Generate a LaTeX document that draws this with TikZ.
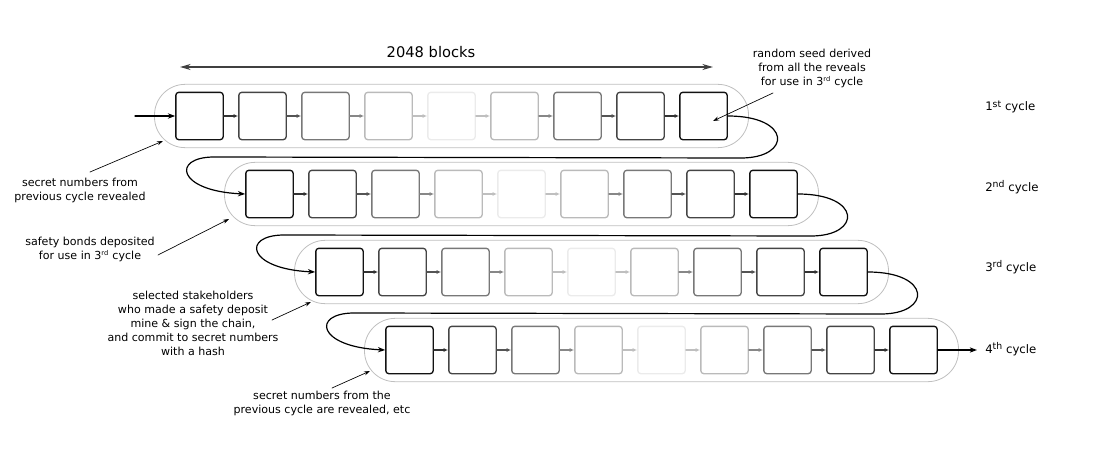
\documentclass[tikz,border=0pt]{standalone}
\usepackage{fontspec}
\setmainfont{DejaVu Sans}
\usetikzlibrary{arrows.meta,calc,fit}
\newcommand{\cycsup}[1]{\raisebox{0.55ex}{\fontsize{7}{8}\selectfont #1}}

\begin{document}
\begin{tikzpicture}[x=0.75pt, y=-0.75pt, line cap=round, line join=round,
  blk/.style={draw, rounded corners=2.2pt, line width=1pt, minimum width=35.5pt, minimum height=35.5pt, inner sep=0pt},
  track/.style={draw=black!25, line width=0.6pt, rounded corners=23pt, inner xsep=15.5pt, inner ysep=5.5pt},
  link/.style={-{Latex[length=3.5pt,width=3pt]}, line width=0.8pt},
  chain/.style={-{Stealth[length=5.5pt,width=4pt]}, line width=0.9pt},
  note/.style={font=\fontsize{8.3}{10.5}\selectfont, align=center, inner sep=0pt},
  cyc/.style={font=\fontsize{8.8}{10.5}\selectfont, anchor=west, inner sep=0pt},
  pointer/.style={-{Stealth[length=4.5pt,width=3pt]}, line width=0.5pt}]
  \useasboundingbox (0,0) rectangle (1112,453);

  % --- the four cycles, 9 blocks each, fading toward the middle ---
  \foreach \r in {1,...,4} {
    \foreach \i/\shade in {1/93,2/73,3/53,4/27,5/8,6/27,7/53,8/73,9/93}
      \node[blk, draw=black!\shade] (r\r-b\i) at ({199.5+70*(\r-1)+63*(\i-1)}, {116+78*(\r-1)}) {};
    \foreach \i/\j/\shade in {1/2/80,2/3/67,3/4/47,4/5/25,5/6/25,6/7/47,7/8/67,8/9/80}
      \draw[link, draw=black!\shade] (r\r-b\i) -- (r\r-b\j);
    \node[track, fit=(r\r-b1)(r\r-b9)] (r\r-track) {};
  }

  % --- chain running from one cycle into the next ---
  \coordinate (in) at (135,116);
  \coordinate (out) at (977,350);
  \draw[chain] (in) -- (r1-b1.west);
  \foreach \r/\s in {1/2,2/3,3/4}
    \draw[chain] (r\r-b9.east)
      .. controls ($(r\r-b9.east)+(64,0)$) and ($(r\r-b9.east)+(64,42)$) .. ($(r\r-b9.east)+(13,42)$)
      -- ($(r\s-b1.west)+(-31,-37)$)
      .. controls ($(r\s-b1.west)+(-74,-37)$) and ($(r\s-b1.west)+(-68,-3)$) .. (r\s-b1.west);
  \draw[chain] (r4-b9.east) -- (out);

  % --- cycle labels ---
  \node[cyc] (cyc1) at (985,107) {1\cycsup{st} cycle};
  \node[cyc] (cyc2) at (985,187) {2\cycsup{nd} cycle};
  \node[cyc] (cyc3) at (985,267) {3\cycsup{rd} cycle};
  \node[cyc] (cyc4) at (985,349) {4\cycsup{th} cycle};

  % --- span of one cycle ---
  \coordinate (span-l) at (180,67);
  \coordinate (span-r) at (713,67);
  \draw[{Stealth[length=8pt,width=4.5pt]}-{Stealth[length=8pt,width=4.5pt]}, draw=black!75, line width=0.9pt] (span-l) -- (span-r);
  \node[font=\fontsize{11}{13}\selectfont, inner sep=0pt] (span) at (431,52) {2048 blocks};

  % --- annotations ---
  \node[note] (seed) at (812,68) {random seed derived\\from all the reveals\\for use in 3\textsuperscript{\tiny rd} cycle};
  \coordinate (seed-tail) at (773,93);
  \coordinate (seed-tip) at (713,121);
  \draw[pointer] (seed-tail) -- (seed-tip);

  \node[note] (reveal) at (80,190) {secret numbers from\\previous cycle revealed};
  \coordinate (reveal-tail) at (90,172);
  \coordinate (reveal-tip) at (163,141);
  \draw[pointer] (reveal-tail) -- (reveal-tip);

  \node[note] (bonds) at (90,249) {safety bonds deposited\\for use in 3\textsuperscript{\tiny rd} cycle};
  \coordinate (bonds-tail) at (158,255);
  \coordinate (bonds-tip) at (229,219);
  \draw[pointer] (bonds-tail) -- (bonds-tip);

  \node[note] (stake) at (193,323) {selected stakeholders\\who made a safety deposit\\mine \& sign the chain,\\and commit to secret numbers\\with a hash};
  \coordinate (stake-tail) at (272,320);
  \coordinate (stake-tip) at (311,302);
  \draw[pointer] (stake-tail) -- (stake-tip);

  \node[note] (etc) at (322,403) {secret numbers from the\\previous cycle are revealed, etc};
  \coordinate (etc-tail) at (332,388);
  \coordinate (etc-tip) at (370,371);
  \draw[pointer] (etc-tail) -- (etc-tip);
\end{tikzpicture}
\end{document}
